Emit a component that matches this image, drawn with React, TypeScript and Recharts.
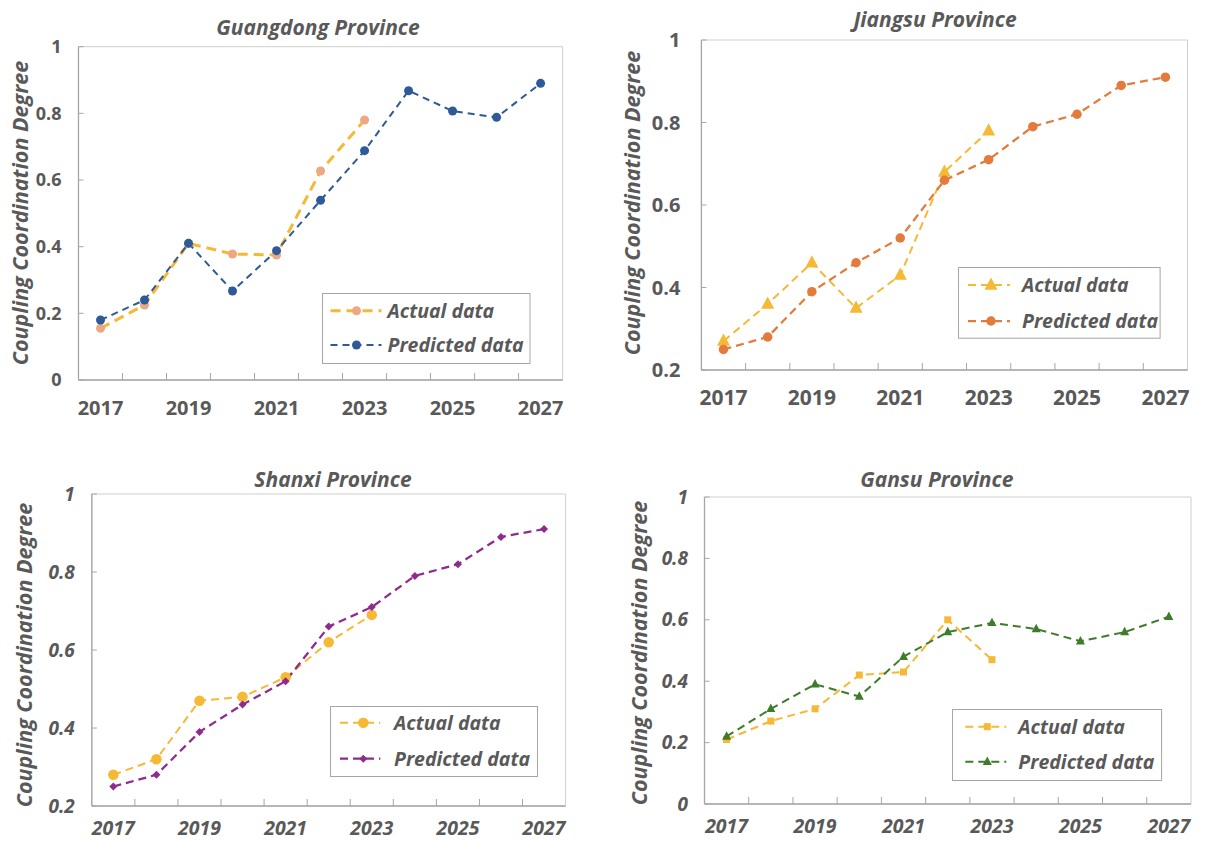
import React from "react";
import { ComposedChart, Line, XAxis, YAxis, ReferenceArea } from "recharts";

const years = [2017, 2018, 2019, 2020, 2021, 2022, 2023, 2024, 2025, 2026, 2027];
const yearLabels = [2017, 2019, 2021, 2023, 2025, 2027];

const guangdongActual = [0.155, 0.225, 0.41, 0.378, 0.375, 0.627, 0.78];
const guangdongPredicted = [0.18, 0.24, 0.41, 0.267, 0.388, 0.539, 0.688, 0.868, 0.807, 0.788, 0.89];
const jiangsuActual = [0.27, 0.36, 0.46, 0.35, 0.43, 0.68, 0.78];
const jiangsuPredicted = [0.25, 0.28, 0.39, 0.46, 0.52, 0.66, 0.71, 0.79, 0.82, 0.89, 0.91];
const shanxiActual = [0.28, 0.32, 0.47, 0.48, 0.53, 0.62, 0.69];
const shanxiPredicted = [0.25, 0.28, 0.39, 0.46, 0.52, 0.66, 0.71, 0.79, 0.82, 0.89, 0.91];
const gansuActual = [0.21, 0.27, 0.31, 0.42, 0.43, 0.6, 0.47];
const gansuPredicted = [0.22, 0.31, 0.39, 0.35, 0.48, 0.56, 0.59, 0.57, 0.53, 0.56, 0.61];

const yTicksZero = [0, 0.2, 0.4, 0.6, 0.8, 1];
const yTicksFrom02 = [0.2, 0.4, 0.6, 0.8, 1];

const seriesNames = ["Actual data", "Predicted data"];
const yTitle = "Coupling Coordination Degree";

const FONT = "'Open Sans', 'Noto Sans', sans-serif";
const TEXT = "#595959";
const AXIS = "#A6A6A6";
const BORDER = "#CFCFCF";
const Y_AXIS_W = 60;
const X_AXIS_H = 30;

type Kind = "circle" | "triangle" | "diamond" | "square";

interface SeriesStyle {
  color: string;
  markerColor: string;
  marker: Kind;
  size: number;
  width: number;
  dash: string;
}

function Marker({ kind, cx, cy, size, fill }: { kind: Kind; cx: number; cy: number; size: number; fill: string }) {
  if (cx == null || cy == null || isNaN(cx) || isNaN(cy)) return null;
  const h = size / 2;
  if (kind === "circle") return <circle cx={cx} cy={cy} r={h} fill={fill} />;
  if (kind === "square") return <rect x={cx - h} y={cy - h} width={size} height={size} fill={fill} />;
  if (kind === "diamond")
    return <polygon points={`${cx},${cy - h} ${cx + h},${cy} ${cx},${cy + h} ${cx - h},${cy}`} fill={fill} />;
  return (
    <polygon
      points={`${cx},${cy - size * 0.58} ${cx + h},${cy + size * 0.36} ${cx - h},${cy + size * 0.36}`}
      fill={fill}
    />
  );
}

interface PanelProps {
  title: string;
  actual: number[];
  predicted: number[];
  yTicks: number[];
  box: { x: number; y: number; w: number; h: number };
  plot: { l: number; t: number; r: number; b: number };
  titlePos: { x: number; y: number };
  yLabelPos: { x: number; y: number };
  legend: { l: number; t: number; r: number; b: number; sl: number; sr: number; mk: number; tx: number; r1: number; r2: number };
  italicTicks: boolean;
  xFont: number;
  yFont: number;
  xOffset: number;
  yGap: number;
  actualStyle: SeriesStyle;
  predictedStyle: SeriesStyle;
}

function Panel(p: PanelProps) {
  const data = years.map((year, i) => ({ year, actual: p.actual[i], predicted: p.predicted[i] }));
  const xTicks = [...yearLabels, ...years.slice(1).map((y) => y - 0.5)].sort((a, b) => a - b);
  const margin = {
    top: p.plot.t - p.box.y,
    left: p.plot.l - p.box.x - Y_AXIS_W,
    right: p.box.x + p.box.w - p.plot.r,
    bottom: p.box.y + p.box.h - p.plot.b - X_AXIS_H,
  };
  const tickStyle = p.italicTicks ? "italic" : "normal";

  const XTick = (props: any) => {
    const { x, y, payload } = props;
    const v = payload.value;
    if (!Number.isInteger(v)) return <line x1={x} x2={x} y1={y} y2={y - 7} stroke={AXIS} strokeWidth={1} />;
    return (
      <text x={x} y={y + p.xOffset} dy="0.35em" textAnchor="middle" fill={TEXT} fontSize={p.xFont} fontWeight={700} fontFamily={FONT} fontStyle={tickStyle}>
        {v}
      </text>
    );
  };

  const YTick = (props: any) => {
    const { x, y, payload } = props;
    return (
      <g>
        <line x1={x} x2={x + 5} y1={y} y2={y} stroke={AXIS} strokeWidth={1} />
        <text x={x - p.yGap} y={y} dy="0.35em" textAnchor="end" fill={TEXT} fontSize={p.yFont} fontWeight={700} fontFamily={FONT} fontStyle={tickStyle}>
          {String(payload.value)}
        </text>
      </g>
    );
  };

  const dotFor = (s: SeriesStyle) => (props: any) =>
    <Marker key={props.index} kind={s.marker} cx={props.cx} cy={props.cy} size={s.size} fill={s.markerColor} />;

  const lg = p.legend;
  const lw = lg.r - lg.l;
  const lh = lg.b - lg.t;
  const rows: [SeriesStyle, number][] = [
    [p.actualStyle, lg.r1 - lg.t],
    [p.predictedStyle, lg.r2 - lg.t],
  ];

  return (
    <div style={{ position: "absolute", left: p.box.x, top: p.box.y, width: p.box.w, height: p.box.h }}>
      <ComposedChart width={p.box.w} height={p.box.h} data={data} margin={margin} style={{ overflow: "visible" }}>
        <ReferenceArea x1={2016.5} x2={2027.5} y1={p.yTicks[0]} y2={1} fill="none" stroke={BORDER} strokeWidth={1} />
        <XAxis
          dataKey="year"
          type="number"
          domain={[2016.5, 2027.5]}
          ticks={xTicks}
          interval={0}
          height={X_AXIS_H}
          tickSize={0}
          tickMargin={0}
          tickLine={false}
          axisLine={{ stroke: AXIS, strokeWidth: 1.3 }}
          tick={XTick}
          allowDecimals
        />
        <YAxis
          type="number"
          domain={[p.yTicks[0], 1]}
          ticks={p.yTicks}
          interval={0}
          width={Y_AXIS_W}
          tickSize={0}
          tickMargin={0}
          tickLine={false}
          axisLine={{ stroke: AXIS, strokeWidth: 1.3 }}
          tick={YTick}
        />
        <Line
          dataKey="actual"
          stroke={p.actualStyle.color}
          strokeWidth={p.actualStyle.width}
          strokeDasharray={p.actualStyle.dash}
          dot={dotFor(p.actualStyle)}
          activeDot={false}
          isAnimationActive={false}
        />
        <Line
          dataKey="predicted"
          stroke={p.predictedStyle.color}
          strokeWidth={p.predictedStyle.width}
          strokeDasharray={p.predictedStyle.dash}
          dot={dotFor(p.predictedStyle)}
          activeDot={false}
          isAnimationActive={false}
        />
      </ComposedChart>

      <div
        style={{
          position: "absolute",
          left: p.titlePos.x - p.box.x,
          top: p.titlePos.y - p.box.y,
          transform: "translate(-50%, -50%)",
          whiteSpace: "nowrap",
          fontFamily: FONT,
          fontWeight: 700,
          fontStyle: "italic",
          fontSize: 21,
          color: TEXT,
        }}
      >
        {p.title}
      </div>

      <div
        style={{
          position: "absolute",
          left: p.yLabelPos.x - p.box.x,
          top: p.yLabelPos.y - p.box.y,
          transform: "translate(-50%, -50%) rotate(-90deg)",
          whiteSpace: "nowrap",
          fontFamily: FONT,
          fontWeight: 700,
          fontStyle: "italic",
          fontSize: 21.5,
          color: TEXT,
        }}
      >
        {yTitle}
      </div>

      <svg
        width={lw}
        height={lh}
        style={{ position: "absolute", left: lg.l - p.box.x, top: lg.t - p.box.y, overflow: "visible" }}
      >
        <rect x={0.5} y={0.5} width={lw - 1} height={lh - 1} fill="#fff" stroke={AXIS} strokeWidth={1} />
        {rows.map(([s, ry], i) => (
          <g key={i}>
            <line
              x1={lg.sl - lg.l}
              x2={lg.sr - lg.l}
              y1={ry}
              y2={ry}
              stroke={s.color}
              strokeWidth={s.width}
              strokeDasharray={s.dash}
            />
            <Marker kind={s.marker} cx={lg.mk - lg.l} cy={ry} size={s.size} fill={s.markerColor} />
            <text
              x={lg.tx - lg.l}
              y={ry}
              dy="0.35em"
              fill={TEXT}
              fontSize={19.5}
              fontWeight={700}
              fontStyle="italic"
              fontFamily={FONT}
            >
              {seriesNames[i]}
            </text>
          </g>
        ))}
      </svg>
    </div>
  );
}

const GOLD = "#F5B935";

export default function App() {
  return (
    <div style={{ position: "absolute", left: 0, top: 0, width: 1207, height: 841, background: "#fff", overflow: "hidden" }}>
      <Panel
        title="Guangdong Province"
        actual={guangdongActual}
        predicted={guangdongPredicted}
        yTicks={yTicksZero}
        box={{ x: 0, y: 0, w: 600, h: 420 }}
        plot={{ l: 78.5, t: 46.7, r: 562.6, b: 380 }}
        titlePos={{ x: 318, y: 27 }}
        yLabelPos={{ x: 19, y: 213 }}
        legend={{ l: 321.5, t: 293, r: 530, b: 364, sl: 330, sr: 381, mk: 356, tx: 387, r1: 310.7, r2: 345 }}
        italicTicks={false}
        xFont={20}
        yFont={18}
        xOffset={28}
        yGap={17}
        actualStyle={{ color: GOLD, markerColor: "#EBA882", marker: "circle", size: 9, width: 3, dash: "10 6" }}
        predictedStyle={{ color: "#2E5A98", markerColor: "#2E5A98", marker: "circle", size: 9, width: 2, dash: "7 5" }}
      />
      <Panel
        title="Jiangsu Province"
        actual={jiangsuActual}
        predicted={jiangsuPredicted}
        yTicks={yTicksFrom02}
        box={{ x: 600, y: 0, w: 607, h: 420 }}
        plot={{ l: 701.4, t: 40, r: 1187.5, b: 370 }}
        titlePos={{ x: 935, y: 19 }}
        yLabelPos={{ x: 630.6, y: 203 }}
        legend={{ l: 958, t: 267, r: 1160.6, b: 338.7, sl: 968, sr: 1010, mk: 991, tx: 1022, r1: 285, r2: 321 }}
        italicTicks={false}
        xFont={21}
        yFont={20}
        xOffset={28}
        yGap={21}
        actualStyle={{ color: GOLD, markerColor: GOLD, marker: "triangle", size: 13, width: 2, dash: "8 5" }}
        predictedStyle={{ color: "#E27B3B", markerColor: "#E27B3B", marker: "circle", size: 9.5, width: 2.25, dash: "8 5" }}
      />
      <Panel
        title="Shanxi Province"
        actual={shanxiActual}
        predicted={shanxiPredicted}
        yTicks={yTicksFrom02}
        box={{ x: 0, y: 420, w: 600, h: 421 }}
        plot={{ l: 91.8, t: 494, r: 565.6, b: 806 }}
        titlePos={{ x: 333, y: 479 }}
        yLabelPos={{ x: 23, y: 655 }}
        legend={{ l: 329.7, t: 706, r: 537.7, b: 777, sl: 339.7, sr: 380, mk: 363, tx: 393.7, r1: 722.7, r2: 758.7 }}
        italicTicks
        xFont={19.5}
        yFont={19}
        xOffset={22}
        yGap={17}
        actualStyle={{ color: GOLD, markerColor: GOLD, marker: "circle", size: 10.5, width: 2, dash: "8 5" }}
        predictedStyle={{ color: "#8E2B8C", markerColor: "#8E2B8C", marker: "diamond", size: 8, width: 2.25, dash: "8 5" }}
      />
      <Panel
        title="Gansu Province"
        actual={gansuActual}
        predicted={gansuPredicted}
        yTicks={yTicksZero}
        box={{ x: 600, y: 420, w: 607, h: 421 }}
        plot={{ l: 704.5, t: 497, r: 1191, b: 804 }}
        titlePos={{ x: 936.8, y: 479 }}
        yLabelPos={{ x: 638, y: 653 }}
        legend={{ l: 951.7, t: 709, r: 1161.8, b: 781, sl: 965, sr: 1006, mk: 987, tx: 1018, r1: 726.7, r2: 761.7 }}
        italicTicks
        xFont={19.5}
        yFont={19}
        xOffset={22}
        yGap={16.5}
        actualStyle={{ color: GOLD, markerColor: GOLD, marker: "square", size: 7, width: 2, dash: "8 5" }}
        predictedStyle={{ color: "#3E7C2C", markerColor: "#3E7C2C", marker: "triangle", size: 9, width: 2, dash: "8 5" }}
      />
    </div>
  );
}
